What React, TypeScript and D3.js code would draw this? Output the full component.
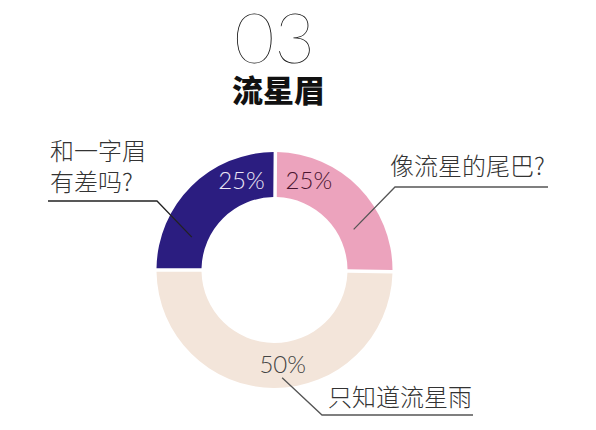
import React, { useEffect, useRef } from "react";
import * as d3 from "d3";

// slices, clockwise from 12 o'clock
const names = ["和一字眉有差吗?", "像流星的尾巴?", "只知道流星雨"];
const values = [25, 25, 50];
const colors = ["#2b1d80", "#eca3bd", "#f3e5da"];
const labelColors = ["#ece8f6", "#4a1530", "#444444"];
const calloutLines = [["和一字眉", "有差吗?"], ["像流星的尾巴?"], ["只知道流星雨"]];

const width = 596,
  height = 430;

const App = () => {
  const ref = useRef<SVGSVGElement>(null);

  useEffect(() => {
    const svg = d3.select(ref.current);
    svg.selectAll("*").remove();

    const cx = 274.5,
      cy = 270,
      outer = 118,
      inner = 73;

    // title
    svg
      .append("text")
      .attr("x", cx)
      .attr("y", 63)
      .attr("text-anchor", "middle")
      .style("font-family", "Lato")
      .style("font-weight", 200)
      .style("font-size", "70px")
      .attr("fill", "#111")
      .text("03");

    svg
      .append("text")
      .attr("x", cx + 4)
      .attr("y", 102)
      .attr("text-anchor", "middle")
      .style("font-family", "'Noto Sans CJK SC'")
      .style("font-weight", 900)
      .style("font-size", "31px")
      .attr("fill", "#111")
      .text("流星眉");

    const pie = d3
      .pie<number>()
      .sort(null)
      .startAngle(-Math.PI / 2)
      .endAngle((3 * Math.PI) / 2)
      .padAngle(3.5 / outer);

    const arc = d3
      .arc<d3.PieArcDatum<number>>()
      .innerRadius(inner)
      .outerRadius(outer)
      .padRadius(outer);

    const arcs = pie(values);
    const g = svg.append("g").attr("transform", `translate(${cx},${cy})`);

    g.selectAll("path.slice")
      .data(arcs)
      .enter()
      .append("path")
      .attr("class", "slice")
      .attr("d", arc)
      .attr("fill", (d, i) => colors[i]);

    // where in each slice the percent sits (fraction of the sweep)
    const labelPos = [0.77, 0.23, 0.47];
    const at = (d: d3.PieArcDatum<number>, f: number, r: number) => {
      const a = d.startAngle + (d.endAngle - d.startAngle) * f;
      return [Math.sin(a) * r, -Math.cos(a) * r];
    };

    g.selectAll("text.pct")
      .data(arcs)
      .enter()
      .append("text")
      .attr("class", "pct")
      .attr("x", (d, i) => at(d, labelPos[i], 95)[0])
      .attr("y", (d, i) => at(d, labelPos[i], 95)[1] + 8)
      .attr("text-anchor", "middle")
      .style("font-family", "Lato")
      .style("font-weight", 300)
      .style("font-size", "24px")
      .attr("fill", (d, i) => labelColors[i])
      .text((d) => d.value + "%");

    // callouts: point on ring, elbow, end of underline
    const hooks = [
      { f: 0.24, r: 89, elbow: [157, 201], end: 48, tx: 50, ty: [160, 191] },
      { f: 0.69, r: 89, elbow: [395, 187], end: 548, tx: 390, ty: [175] },
      { f: 0.475, r: 108, elbow: [322, 415], end: 473, tx: 328, ty: [406] },
    ];

    arcs.forEach((d, i) => {
      const h = hooks[i];
      const p = at(d, h.f, h.r);
      svg
        .append("path")
        .attr(
          "d",
          `M${cx + p[0]},${cy + p[1]}L${h.elbow[0]},${h.elbow[1]}L${h.end},${h.elbow[1]}`
        )
        .attr("fill", "none")
        .attr("stroke", i === 0 ? "#222" : "#555")
        .attr("stroke-width", 1.3);

      calloutLines[i].forEach((line, j) => {
        svg
          .append("text")
          .attr("x", h.tx)
          .attr("y", h.ty[j])
          .style("font-family", "'Noto Sans CJK SC'")
          .style("font-weight", 300)
          .style("font-size", "24px")
          .attr("fill", "#333")
          .text(line);
      });
    });
  }, []);

  return (
    <svg
      ref={ref}
      width={width}
      height={height}
      style={{ position: "absolute", left: 0, top: 0, background: "#fff" }}
    >
      <title>{names.join(" / ")}</title>
    </svg>
  );
};

export default App;
